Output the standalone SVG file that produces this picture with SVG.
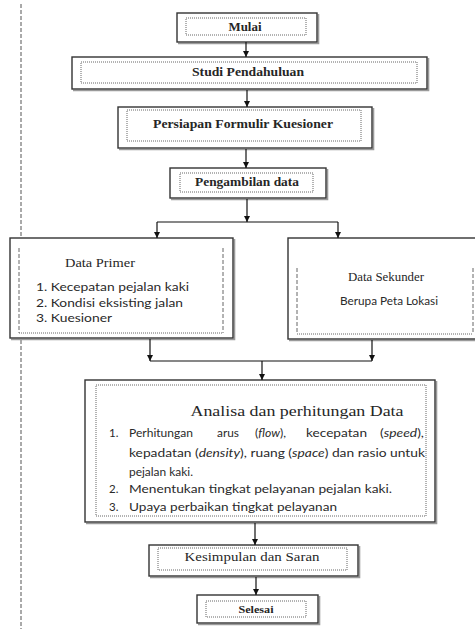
<svg xmlns="http://www.w3.org/2000/svg" width="475" height="629" viewBox="0 0 475 629">
<defs>
<marker id="ah" viewBox="0 0 10 10" refX="10" refY="5" markerWidth="6" markerHeight="6" markerUnits="userSpaceOnUse" orient="auto">
<path d="M0,0 L10,5 L0,10 z" fill="#111"/>
</marker>
</defs>
<style>
.outer{fill:#fff;stroke:#333;stroke-width:1.4}
.shadow{fill:none;stroke:#9a9a9a;stroke-width:1.6}
.inner{fill:none;stroke:#666;stroke-width:1;stroke-dasharray:1,1}
.side{fill:none;stroke:#666;stroke-width:1;stroke-dasharray:4,2}
.lbl{font-size:12.5px;fill:#262626;text-anchor:middle}
.b{font-weight:bold}
.sans{font-size:11.5px;fill:#2a2a2a}
.conn{fill:none;stroke:#111;stroke-width:1.2}
</style>
<rect width="475" height="629" fill="#fff"/>
<line x1="21" y1="4" x2="21" y2="629" stroke="#555" stroke-width="1" stroke-dasharray="4,2"/>

<g id="mulai" font-family="Liberation Serif, DejaVu Serif, serif">
<path class="shadow" d="M318.5,14 V43.5 H178"/>
<rect class="outer" x="177" y="13" width="140" height="29"/>
<rect class="inner" x="186" y="18" width="120" height="17"/>
<text class="lbl b" x="245" y="31" textLength="33" lengthAdjust="spacingAndGlyphs">Mulai</text>
</g>

<g id="studi" font-family="Liberation Serif, DejaVu Serif, serif">
<path class="shadow" d="M428.5,58 V90.5 H73"/>
<rect class="outer" x="72" y="57" width="355" height="32"/>
<rect class="inner" x="81" y="62" width="336" height="21"/>
<text class="lbl b" x="248" y="76" textLength="112" lengthAdjust="spacingAndGlyphs">Studi Pendahuluan</text>
</g>

<g id="persiapan" font-family="Liberation Serif, DejaVu Serif, serif">
<path class="shadow" d="M373.5,108 V149.5 H119"/>
<rect class="outer" x="118" y="107" width="254" height="41"/>
<rect class="inner" x="127" y="110" width="234" height="31"/>
<text class="lbl b" x="243" y="128" textLength="180" lengthAdjust="spacingAndGlyphs">Persiapan Formulir Kuesioner</text>
</g>

<g id="pengambilan" font-family="Liberation Serif, DejaVu Serif, serif">
<path class="shadow" d="M327.5,169 V199.5 H171"/>
<rect class="outer" x="170" y="168" width="156" height="30"/>
<rect class="inner" x="180" y="173" width="133" height="19"/>
<text class="lbl b" x="247" y="186" textLength="104" lengthAdjust="spacingAndGlyphs">Pengambilan data</text>
</g>

<g id="data-primer">
<path class="shadow" d="M234.5,239 V339.5 H11"/>
<rect class="outer" x="10" y="238" width="223" height="100"/>
<path class="side" d="M19,248 V333 M223,248 V333"/>
<path class="inner" d="M19,333 H223"/>
<text class="lbl" font-family="Liberation Serif, DejaVu Serif, serif" x="100" y="267" style="font-size:13px" textLength="70" lengthAdjust="spacingAndGlyphs">Data Primer</text>
<g font-family="Lato, Liberation Sans, sans-serif">
<text class="sans" x="36" y="291" textLength="153" lengthAdjust="spacingAndGlyphs">1. Kecepatan pejalan kaki</text>
<text class="sans" x="36" y="307" textLength="147" lengthAdjust="spacingAndGlyphs">2. Kondisi eksisting jalan</text>
<text class="sans" x="36" y="322" textLength="76" lengthAdjust="spacingAndGlyphs">3. Kuesioner</text>
</g>
</g>

<g id="data-sekunder">
<path class="shadow" d="M289,340.5 H480"/>
<rect class="outer" x="288" y="238" width="200" height="101"/>
<path class="side" d="M297,268 V334 M473,268 V334"/>
<path class="inner" d="M297,334 H473"/>
<text class="lbl" font-family="Liberation Serif, DejaVu Serif, serif" x="386" y="281" textLength="76" lengthAdjust="spacingAndGlyphs">Data Sekunder</text>
<text class="sans" font-family="Lato, Liberation Sans, sans-serif" x="389" y="305" text-anchor="middle" style="font-size:10.5px" textLength="98" lengthAdjust="spacingAndGlyphs">Berupa Peta Lokasi</text>
</g>

<g id="analisa">
<path class="shadow" d="M436.5,381 V523.5 H86"/>
<rect class="outer" x="85" y="380" width="350" height="142"/>
<rect class="inner" x="96" y="385" width="330" height="131"/>
<text class="lbl" font-family="Liberation Serif, DejaVu Serif, serif" x="297" y="416" style="font-size:14px" textLength="213" lengthAdjust="spacingAndGlyphs">Analisa dan perhitungan Data</text>
<g font-family="Lato, Liberation Sans, sans-serif">
<text class="sans" x="109" y="437">1.</text>
<text class="sans" y="437"><tspan x="129" textLength="64" lengthAdjust="spacingAndGlyphs">Perhitungan</tspan><tspan x="217" textLength="22" lengthAdjust="spacingAndGlyphs">arus</tspan><tspan x="255" textLength="31" lengthAdjust="spacingAndGlyphs">(<tspan font-style="italic">flow</tspan>),</tspan><tspan x="306" textLength="61" lengthAdjust="spacingAndGlyphs">kecepatan</tspan><tspan x="380" textLength="44" lengthAdjust="spacingAndGlyphs">(<tspan font-style="italic">speed</tspan>),</tspan></text>
<text class="sans" x="129" y="457" textLength="296" lengthAdjust="spacingAndGlyphs">kepadatan (<tspan font-style="italic">density</tspan>), ruang (<tspan font-style="italic">space</tspan>) dan rasio untuk</text>
<text class="sans" x="129" y="476" textLength="64" lengthAdjust="spacingAndGlyphs">pejalan kaki.</text>
<text class="sans" x="109" y="493">2.</text>
<text class="sans" x="129" y="493" textLength="263" lengthAdjust="spacingAndGlyphs">Menentukan tingkat pelayanan pejalan kaki.</text>
<text class="sans" x="109" y="511">3.</text>
<text class="sans" x="129" y="511" textLength="208" lengthAdjust="spacingAndGlyphs">Upaya perbaikan tingkat pelayanan</text>
</g>
</g>

<g id="kesimpulan" font-family="Liberation Serif, DejaVu Serif, serif">
<path class="shadow" d="M359.5,546 V577.5 H150"/>
<rect class="outer" x="149" y="545" width="209" height="31"/>
<rect class="inner" x="158" y="548" width="189" height="22"/>
<text class="lbl" x="252" y="561" style="font-size:13px" textLength="135" lengthAdjust="spacingAndGlyphs">Kesimpulan dan Saran</text>
</g>

<g id="selesai" font-family="Liberation Serif, DejaVu Serif, serif">
<path class="shadow" d="M319.5,596 V624.5 H198"/>
<rect class="outer" x="197" y="595" width="121" height="28"/>
<rect class="inner" x="206" y="601" width="100" height="16"/>
<text class="lbl b" x="256" y="613" style="font-size:11px" textLength="35" lengthAdjust="spacingAndGlyphs">Selesai</text>
</g>

<g id="connectors">
<line class="conn" x1="246" y1="42" x2="246" y2="57" marker-end="url(#ah)"/>
<line class="conn" x1="247" y1="90" x2="247" y2="107" marker-end="url(#ah)"/>
<line class="conn" x1="246" y1="149" x2="246" y2="168" marker-end="url(#ah)"/>
<line class="conn" x1="247" y1="199" x2="247" y2="222" marker-end="url(#ah)"/>
<path class="conn" d="M157,222 H338"/>
<line class="conn" x1="157" y1="222" x2="157" y2="238" marker-end="url(#ah)"/>
<line class="conn" x1="338" y1="222" x2="338" y2="238" marker-end="url(#ah)"/>
<line class="conn" x1="150" y1="339" x2="150" y2="361" marker-end="url(#ah)"/>
<line class="conn" x1="372" y1="340" x2="372" y2="361" marker-end="url(#ah)"/>
<path class="conn" d="M150,361 H372"/>
<line class="conn" x1="262" y1="361" x2="262" y2="380" marker-end="url(#ah)"/>
<line class="conn" x1="255" y1="523" x2="255" y2="545" marker-end="url(#ah)"/>
<line class="conn" x1="256" y1="577" x2="256" y2="595" marker-end="url(#ah)"/>
</g>
</svg>
